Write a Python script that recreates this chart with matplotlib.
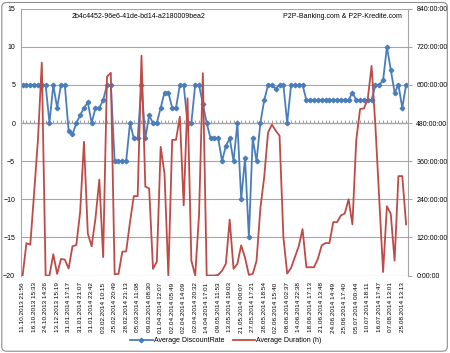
import numpy as np
import matplotlib
matplotlib.use("Agg")
import matplotlib.pyplot as plt
from matplotlib.patches import FancyBboxPatch
from matplotlib.ticker import FuncFormatter

plt.rcParams['font.family'] = ['Liberation Sans', 'DejaVu Sans']

# average discount rate (left axis)
discount_rate = [5, 5, 5, 5, 5, 5, 5, 0, 5, 2,
                 5, 5, -1, -1.5, 0, 1, 2, 2.7, 0, 2,
                 2, 3, 5, 5, -5, -5, -5, -5, 0, -2,
                 -2, 5, -2, 1, 0, 0, 2, 4, 4, 2,
                 2, 5, 5, 0, 0, 5, 5, 2.5, 0, -2,
                 -2, -2, -5, -3, -2, -5, 0, -10, -4.6, -15,
                 -2, -5, 0, 3, 5, 5, 4.5, 5, 5, 0,
                 5, 5, 5, 5, 3, 3, 3, 3, 3, 3,
                 3, 3, 3, 3, 3, 3, 4, 3, 3, 3,
                 3, 3, 5, 5, 5.6, 10, 7, 4, 5, 2,
                 5]

# average duration in hours (right axis)
duration_h = [0, 102, 97, 260, 428, 670, 0, 0, 67, 5,
              52, 50, 22, 92, 96, 200, 421, 132, 92, 180,
              302, 58, 626, 638, 4, 5, 75, 76, 168, 250,
              250, 692, 280, 274, 21, 44, 405, 321, 0, 427,
              427, 500, 221, 558, 47, 0, 190, 637, 0, 0,
              0, 2, 15, 37, 176, 21, 37, 95, 56, 2,
              5, 46, 212, 310, 450, 475, 456, 440, 121, 6,
              24, 58, 92, 146, 26, 26, 26, 53, 95, 102,
              102, 168, 168, 189, 195, 240, 161, 426, 524, 526,
              556, 660, 470, 240, 11, 218, 194, 47, 313, 313,
              161]

# every third category is labelled
date_labels = ['11.10.2013 21:56', '16.10.2013 15:33', '24.10.2013 14:26', '13.12.2013 15:19',
               '31.01.2014 17:17', '31.01.2014 21:07', '31.01.2014 23:42', '03.02.2014 10:15',
               '25.02.2014 20:49', '28.02.2014 21:13', '05.03.2014 11:08', '09.03.2014 08:30',
               '01.04.2014 12:07', '02.04.2014 05:49', '02.04.2014 14:09', '02.04.2014 20:32',
               '14.04.2014 17:01', '09.05.2014 11:53', '13.05.2014 19:03', '21.05.2014 00:07',
               '27.05.2014 17:21', '28.05.2014 18:54', '02.06.2014 15:40', '08.06.2014 02:37',
               '14.06.2014 22:38', '18.06.2014 17:13', '21.06.2014 13:48', '24.06.2014 14:49',
               '25.06.2014 17:40', '05.07.2014 00:44', '10.07.2014 18:11', '16.07.2014 17:47',
               '07.08.2014 13:01', '25.08.2014 13:13']

blue = '#4A7EBB'
red = '#BE4B48'
grid = '#A6A6A6'

x = np.arange(len(discount_rate))

fig = plt.figure(figsize=(4.5, 3.53), dpi=100)
ax = fig.add_axes([0.046, 0.2195, 0.8607, 0.7559])

ax.set_xlim(-0.5, len(x) - 0.5)
ax.set_ylim(-20, 15)
ax.set_yticks(np.arange(-20, 16, 5))
ax.yaxis.grid(True, color=grid, lw=0.8)
ax.set_axisbelow(True)

l1, = ax.plot(x, discount_rate, color=blue, lw=1.3, marker='D', ms=2.3,
              label='Average DiscountRate')

ax.set_xticks(x[::3])
ax.set_xticklabels(date_labels, rotation=90, fontsize=4.6)
ax.tick_params(axis='x', length=0, pad=5)
ax.tick_params(axis='y', length=0, labelsize=5, pad=4)
for s in ['top', 'bottom']:
    ax.spines[s].set_visible(False)
ax.spines['left'].set_color(grid)
ax.spines['right'].set_visible(False)

# category axis crossing at zero
zero_axis = ax.secondary_xaxis(20 / 35)
zero_axis.set_xticks(x)
zero_axis.set_xticklabels([])
zero_axis.tick_params(axis='x', direction='out', length=2, color=grid, width=0.7)
zero_axis.spines['bottom'].set_color(grid)
zero_axis.spines['bottom'].set_linewidth(0.8)

ax2 = ax.twinx()
ax2.set_ylim(0, 840)
ax2.set_yticks(np.arange(0, 841, 120))
ax2.yaxis.set_major_formatter(FuncFormatter(lambda v, p: f"{int(v)}:00:00"))
l2, = ax2.plot(x, duration_h, color=red, lw=1.3, label='Average Duration (h)')
ax2.tick_params(axis='y', length=3, color=grid, labelsize=5, pad=3)
for s in ['top', 'bottom', 'left']:
    ax2.spines[s].set_visible(False)
ax2.spines['right'].set_color(grid)

fig.text(139 / 450, 1 - 16 / 353, '2b4c4452-96e6-41de-bd14-a2180009bea2',
         ha='center', va='center', fontsize=5)
fig.text(342 / 450, 1 - 16 / 353, 'P2P-Banking.com & P2P-Kredite.com',
         ha='center', va='center', fontsize=5)

fig.legend(handles=[l1, l2], loc='center', bbox_to_anchor=(226 / 450, 1 - 341 / 353),
           ncol=2, frameon=False, fontsize=5, handlelength=3.2,
           columnspacing=1.2, handletextpad=0.2)

border = FancyBboxPatch((0.004, 0.005), 0.99, 0.988, transform=fig.transFigure,
                        boxstyle='round,pad=0,rounding_size=0.012',
                        fill=False, ec='#8C8C8C', lw=0.8)
fig.patches.append(border)

fig.savefig('out.png', dpi=100)
